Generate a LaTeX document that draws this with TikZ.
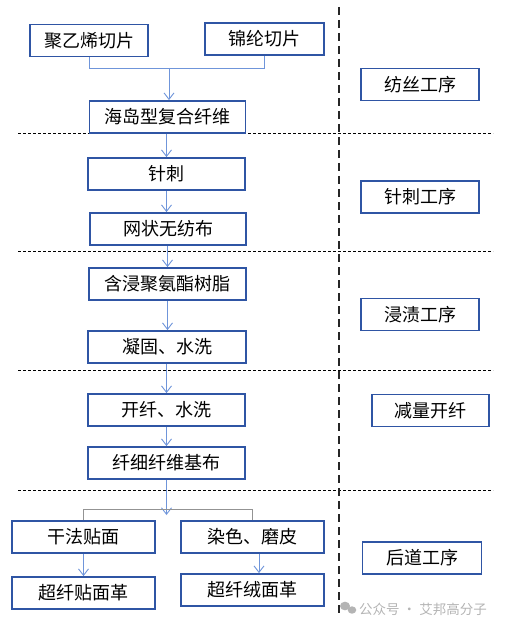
\documentclass[tikz,border=0pt]{standalone}
\usepackage{fontspec}
\setmainfont{Noto Sans CJK SC}
\usetikzlibrary{arrows.meta}
\definecolor{boxblue}{HTML}{2F55A4}
\definecolor{arrblue}{HTML}{6F95DA}
\definecolor{wmgray}{HTML}{B4B4B4}
\tikzset{
  box/.style={draw=boxblue, line width=1.8pt, fill=white, inner sep=0pt,
    minimum height=32pt, font=\fontsize{18}{18}\selectfont},
  flow/.style={draw=arrblue, line width=0.9pt, -{Straight Barb[length=6.5pt,width=10pt,line width=0.9pt]}},
  joinline/.style={draw=arrblue, line width=0.9pt},
  graybr/.style={draw=gray!85, line width=0.9pt},
  sepline/.style={draw=black, line width=0.7pt, dash pattern=on 3pt off 2pt},
  vsep/.style={draw=black!85, line width=2.5pt, dash pattern=on 8pt off 5pt}
}
\begin{document}
\begin{tikzpicture}[x=1pt,y=-1pt]
\useasboundingbox (0,0) rectangle (513,631);
% separators
\draw[sepline] (18,133.5) -- (493,133.5);
\draw[sepline] (18,251) -- (493,251);
\draw[sepline] (18,370) -- (493,370);
\draw[sepline] (18,490) -- (493,490);
\draw[vsep] (339,7) -- (339,613);
% left column nodes
\node[box, minimum width=118pt] (p1) at (89,40.5) {聚乙烯切片};
\node[box, minimum width=119pt] (p2) at (264.5,39) {锦纶切片};
\node[box, minimum width=156pt] (hd) at (167.5,117) {海岛型复合纤维};
\node[box, minimum width=157pt] (zc) at (166.5,174) {针刺};
\node[box, minimum width=156pt] (ws) at (168,229) {网状无纺布};
\node[box, minimum width=157pt] (hj) at (167.5,284) {含浸聚氨酯树脂};
\node[box, minimum width=158pt] (ng) at (167,347) {凝固、水洗};
\node[box, minimum width=157pt] (kx) at (166.5,410) {开纤、水洗};
\node[box, minimum width=157pt] (jb) at (166.5,463) {纤细纤维基布};
\node[box, minimum width=143pt] (gf) at (83.5,537) {干法贴面};
\node[box, minimum width=143pt] (rs) at (252.5,537) {染色、磨皮};
\node[box, minimum width=143pt] (cg) at (83.5,593) {超纤贴面革};
\node[box, minimum width=143pt] (cr) at (252.5,590) {超纤绒面革};
% right column
\node[box, minimum width=118pt] (r1) at (420,84.5) {纺丝工序};
\node[box, minimum width=118pt] (r2) at (420,197) {针刺工序};
\node[box, minimum width=118pt] (r3) at (420,314.5) {浸渍工序};
\node[box, minimum width=117pt] (r4) at (430.5,410.5) {减量开纤};
\node[box, minimum width=119pt] (r5) at (422,558) {后道工序};
% join coordinates
\coordinate (jm) at (169,68);
\coordinate (bm) at (166.5,509);
% connectors
\draw[joinline] (p1.south) -- (p1.south |- jm) -- (p2.south |- jm) -- (p2.south);
\draw[flow] (jm) -- (jm |- hd.north);
\draw[flow] (hd.south -| zc.north) -- (zc.north);
\draw[flow] (zc.south) -- (zc.south |- ws.north);
\draw[flow] (ws.south -| hj.north) -- (hj.north);
\draw[flow] (hj.south) -- (hj.south |- ng.north);
\draw[flow] (ng.south -| kx.north) -- (kx.north);
\draw[flow] (kx.south) -- (kx.south |- jb.north);
\draw[flow] (jb.south) -- ([yshift=-6pt]bm);
\draw[graybr] (gf.north) -- (gf.north |- bm) -- (rs.north |- bm) -- (rs.north);
\draw[flow] (gf.south) -- (gf.south |- cg.north);
\draw[flow] ([xshift=6.5pt]rs.south) -- ([xshift=6.5pt]rs.south |- cr.north);
% watermark
\fill[wmgray] (345,606) ellipse (5pt and 4.3pt);
\fill[wmgray] (352,610) ellipse (4.3pt and 3.7pt);
\node[text=wmgray, font=\fontsize{13.5}{14}\selectfont, inner sep=0pt, anchor=west] (wm) at (359,609) {公众号 · 艾邦高分子};
\end{tikzpicture}
\end{document}
